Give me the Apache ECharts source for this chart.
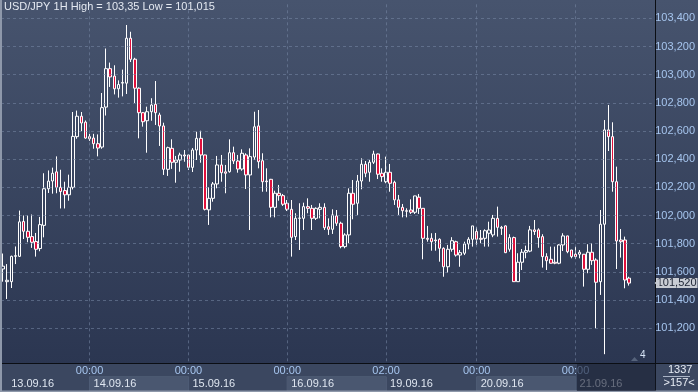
<!DOCTYPE html>
<html><head><meta charset="utf-8">
<script src="https://cdn.jsdelivr.net/npm/echarts@6/dist/echarts.min.js"></script>
<style>html,body{margin:0;padding:0;background:#2a3550}#c{width:698px;height:392px}</style>
</head><body><div id="c"></div>
<script>
// ---- data ----
const sessionDays = ['13.09.16','14.09.16','15.09.16','16.09.16','19.09.16','20.09.16','21.09.16'];
const sessionFirstHour = [3,0,0,0,0,0,0];
const sessionLastHour = [23,23,23,21,23,23,18];

const opens = [101.62,101.53,101.53,101.71,101.71,101.957,101.888,101.85,101.815,101.765,
101.93,102.19,102.245,102.31,102.2,102.177,102.147,102.2,102.56,102.705,
102.663,102.56,102.55,102.51,102.486,102.77,103.043,102.99,102.9,102.94,
102.94,103.259,103.11,102.904,102.73,102.673,102.737,102.79,102.714,102.636,
102.328,102.477,102.378,102.394,102.43,102.43,102.342,102.465,102.548,102.43,
102.04,102.122,102.224,102.359,102.31,102.311,102.446,102.387,102.33,102.43,
102.288,102.415,102.636,102.389,102.245,102.257,102.058,102.158,102.141,102.087,
102.044,101.85,101.98,101.98,102.063,102.051,101.98,102.044,102.058,101.92,
101.902,101.997,101.945,101.779,101.862,102.158,102.087,102.245,102.364,102.307,
102.378,102.437,102.3,102.24,102.307,102.236,102.111,102.058,102.034,102.039,
102.023,102.13,102.051,101.838,101.838,101.826,101.831,101.767,101.636,101.76,
101.814,101.719,101.732,101.798,101.831,101.886,101.838,101.838,101.874,101.862,
101.98,101.916,101.926,101.76,101.843,101.53,101.668,101.739,101.747,101.898,
101.898,101.85,101.708,101.689,101.668,101.661,101.791,101.855,101.755,101.725,
101.725,101.725,101.618,101.739,101.684,101.53,101.938,102.608,102.56,102.24,
101.826,101.826,101.555];
const closes = [101.64,101.54,101.71,101.715,101.955,101.888,101.845,101.81,101.76,101.935,
102.19,102.244,102.30,102.20,102.17,102.147,102.20,102.562,102.705,102.657,
102.55,102.545,102.51,102.479,102.766,103.043,102.984,102.90,102.93,102.945,
103.259,103.109,102.904,102.73,102.666,102.737,102.785,102.73,102.636,102.328,
102.482,102.378,102.394,102.43,102.423,102.342,102.465,102.548,102.43,102.044,
102.122,102.224,102.359,102.304,102.30,102.446,102.387,102.33,102.442,102.288,
102.418,102.63,102.382,102.24,102.24,102.058,102.158,102.141,102.08,102.044,
101.845,101.98,101.982,102.063,102.051,101.98,102.051,102.058,101.913,101.902,
102.004,101.945,101.779,101.862,102.158,102.08,102.245,102.364,102.3,102.378,
102.437,102.293,102.276,102.307,102.229,102.111,102.058,102.034,102.03,102.023,
102.139,102.051,101.838,101.831,101.814,101.821,101.767,101.636,101.76,101.821,
101.719,101.736,101.798,101.831,101.926,101.831,101.831,101.892,101.897,101.98,
101.916,101.909,101.736,101.843,101.53,101.668,101.739,101.751,101.898,101.886,
101.843,101.708,101.679,101.661,101.661,101.791,101.855,101.743,101.708,101.708,
101.739,101.618,101.739,101.679,101.526,101.938,102.608,102.56,102.24,101.819,
101.814,101.542,101.52];
const lows = [101.53,101.407,101.485,101.655,101.705,101.833,101.81,101.77,101.708,101.746,
101.845,102.16,102.155,102.158,102.05,102.05,102.105,102.185,102.545,102.60,
102.545,102.53,102.474,102.42,102.474,102.71,102.913,102.86,102.837,102.846,
102.863,103.09,102.799,102.548,102.631,102.446,102.673,102.643,102.494,102.288,
102.281,102.331,102.233,102.311,102.382,102.323,102.309,102.394,102.375,102.036,
101.933,102.098,102.193,102.24,102.158,102.304,102.366,102.304,102.318,102.188,
101.897,102.394,102.335,102.169,102.169,101.987,101.987,102.105,102.068,102.032,
101.708,101.826,101.755,101.897,102.016,101.897,101.968,101.98,101.897,101.862,
101.869,101.926,101.767,101.767,101.803,101.973,102.004,102.186,102.272,102.24,
102.366,102.259,102.24,102.229,102.169,102.075,102.004,101.987,101.987,102.011,
102.011,102.011,101.689,101.814,101.75,101.75,101.672,101.565,101.594,101.743,
101.708,101.636,101.719,101.76,101.779,101.791,101.803,101.779,101.779,101.846,
101.85,101.862,101.733,101.743,101.528,101.528,101.613,101.696,101.739,101.862,
101.771,101.63,101.613,101.659,101.654,101.654,101.748,101.732,101.696,101.691,
101.696,101.495,101.59,101.649,101.199,101.436,101.015,102.458,102.169,101.62,
101.701,101.483,101.502];
const highs = [101.73,101.655,101.715,101.78,102.035,102.0,102.0,102.007,101.876,101.99,
102.30,102.32,102.34,102.42,102.325,102.24,102.29,102.735,102.745,102.735,
102.675,102.58,102.58,102.576,102.87,103.186,103.086,103.067,102.96,103.036,
103.353,103.305,103.12,102.91,102.735,102.773,102.833,102.955,102.73,102.659,
102.489,102.541,102.423,102.446,102.465,102.432,102.479,102.595,102.602,102.432,
102.20,102.238,102.423,102.43,102.359,102.541,102.489,102.43,102.47,102.442,
102.477,102.737,102.749,102.442,102.335,102.26,102.176,102.217,102.153,102.11,
102.11,102.016,102.087,102.091,102.122,102.075,102.058,102.087,102.087,101.98,
102.044,102.039,101.956,101.874,102.193,102.252,102.288,102.406,102.387,102.394,
102.46,102.44,102.335,102.418,102.366,102.247,102.146,102.082,102.051,102.115,
102.14,102.153,102.052,101.926,101.874,101.876,101.838,101.774,101.791,101.846,
101.821,101.755,101.814,101.846,101.926,101.916,101.897,101.902,101.956,102.004,
102.063,101.926,101.93,101.867,101.85,101.732,101.762,101.786,101.926,101.968,
101.909,101.867,101.732,101.779,101.779,101.796,101.874,101.856,101.756,101.779,
101.755,101.727,101.796,101.803,101.696,102.039,102.678,102.785,102.662,102.347,
101.904,101.85,101.565];

const timeTickIdx = [21,45,69,93,115,139];
const dateTickIdx = [1,21,45,69,93,115,139];
const boxedDateIdx = [21,69,115];
const lastPrice = 101.52;
const titleText = 'USD/JPY 1H High = 103,35 Low = 101,015';
const yTickValues = [101.2,101.4,101.6,101.8,102.0,102.2,102.4,102.6,102.8,103.0,103.2,103.4];

// ---- build ----
const categories = [];
sessionDays.forEach((d, k) => {
  for (let h = sessionFirstHour[k]; h <= sessionLastHour[k]; h++) {
    categories.push(d + ' ' + (h < 10 ? '0' : '') + h + ':00');
  }
});
const ohlc = opens.map((o, i) => [o, closes[i], lows[i], highs[i]]);
const fmt = (v) => v.toFixed(3).replace('.', ',');
const yTickLabels = yTickValues.map(fmt);

const FONT = "'Liberation Sans Narrow','Arial Narrow','Liberation Sans',sans-serif";
const GRID_COLOR = 'rgba(120,136,166,0.55)';
const chart = echarts.init(document.getElementById('c'), null, {renderer: 'canvas'});

const Y_MIN = 100.95, Y_MAX = 103.5;
const markData = [];
timeTickIdx.forEach(i => markData.push([
  {coord: [categories[i], Y_MAX], lineStyle: {color: GRID_COLOR, type: [3, 3], width: 1}, label: {show: false}},
  {coord: [categories[i], Y_MIN]}
]));
yTickValues.forEach(v => markData.push({yAxis: v, lineStyle: {color: GRID_COLOR, type: [3, 3], width: 1}, label: {show: false}}));
markData.push({yAxis: lastPrice, lineStyle: {color: 'rgba(0,0,0,0)', width: 0},
  label: {show: true, position: 'end', distance: 4, formatter: fmt(lastPrice),
          backgroundColor: '#c8ccd4', color: '#1c2333', padding: [0, 1, 0, 1],
          fontSize: 11, lineHeight: 10, fontFamily: FONT}});

chart.setOption({
  animation: false,
  backgroundColor: {type: 'linear', x: 0, y: 0, x2: 0, y2: 1,
    colorStops: [{offset: 0, color: '#47546e'}, {offset: 0.93, color: '#2b3651'}, {offset: 1, color: '#2a3550'}]},
  title: [
    {text: titleText, left: 4, top: 1.5, padding: 0,
     textStyle: {fontSize: 11, fontWeight: 'normal', color: '#e4e9f1', fontFamily: FONT}},
    {text: '1337', left: 668, top: 364.5, padding: 0,
     textStyle: {fontSize: 11, fontWeight: 'normal', color: '#e8edf5', fontFamily: FONT}},
    {text: '>157<', left: 663.5, top: 377.5, padding: 0,
     textStyle: {fontSize: 11, fontWeight: 'normal', color: '#e8edf5', fontFamily: FONT}},
    {text: '4', left: 640, top: 350, padding: 0,
     textStyle: {fontSize: 10, fontWeight: 'normal', color: '#d5e3f5', fontFamily: FONT}}
  ],
  grid: {left: 1, right: 42.5, top: 4.3, bottom: 28.66},
  xAxis: [{
    type: 'category', data: categories, boundaryGap: true, position: 'bottom',
    axisLine: {show: false}, axisTick: {show: false}, splitLine: {show: false},
    axisLabel: {
      interval: (i) => timeTickIdx.indexOf(i) >= 0,
      formatter: (v) => v.split(' ')[1],
      margin: 2, fontSize: 11, color: '#a6c5ee', fontFamily: FONT
    }
  }, {
    type: 'category', data: categories, boundaryGap: true, position: 'bottom',
    axisLine: {show: false}, axisTick: {show: false}, splitLine: {show: false},
    axisLabel: {
      interval: (i) => dateTickIdx.indexOf(i) >= 0,
      formatter: (v, i) => {
        const d = v.split(' ')[0];
        return boxedDateIdx.indexOf(i) >= 0 ? '{box|' + d + '}' : '{plain|' + d + '}';
      },
      align: 'left', margin: 13.5,
      rich: {
        box: {backgroundColor: '#4a5770', borderColor: '#56647d', borderWidth: 0.5, width: 95, height: 13,
              padding: [1, 0, 0, 4], fontSize: 11, color: '#dfe6f0', fontFamily: FONT},
        plain: {width: 70, height: 13, padding: [1, 0, 0, 4], fontSize: 11, color: '#dfe6f0', fontFamily: FONT}
      }
    }
  }],
  yAxis: {
    type: 'value', position: 'right', min: Y_MIN, max: Y_MAX, interval: 0.05,
    axisLine: {show: false}, axisTick: {show: false}, splitLine: {show: false},
    axisLabel: {
      margin: 3.5, fontSize: 11, color: '#a6c5ee', fontFamily: FONT,
      showMinLabel: false, showMaxLabel: false,
      formatter: (v) => {
        const s = fmt(v);
        return yTickLabels.indexOf(s) >= 0 ? s : '';
      }
    }
  },
  series: [{
    type: 'candlestick', data: ohlc, barWidth: 3, xAxisIndex: 0,
    itemStyle: {color: 'rgba(0,0,0,0)', color0: '#e0103c', borderColor: '#ffffff', borderColor0: '#ffffff', borderWidth: 1},
    markLine: {silent: true, symbol: ['none', 'none'], animation: false, data: markData}
  }],
  graphic: [
    {type: 'rect', shape: {x: 0, y: 363, width: 698, height: 29}, style: {fill: '#3b4760'}, z: -1, silent: true},
    {type: 'rect', shape: {x: 577, y: 364, width: 78.5, height: 27}, style: {fill: 'rgba(26,33,52,0.62)'}, z: 100, silent: true},
    {type: 'line', shape: {x1: 655.5, y1: 0, x2: 655.5, y2: 392}, style: {stroke: '#0b0e14', lineWidth: 1}, z: 90, silent: true},
    {type: 'line', shape: {x1: 0, y1: 363.5, x2: 698, y2: 363.5}, style: {stroke: '#0b0e14', lineWidth: 1}, z: 90, silent: true},
    {type: 'line', shape: {x1: 663, y1: 376.5, x2: 690, y2: 376.5}, style: {stroke: '#aab4c6', lineWidth: 1}, z: 90, silent: true},
    {type: 'rect', shape: {x: 0, y: 0, width: 2, height: 392}, style: {fill: '#8e98aa'}, z: 95, silent: true},
    {type: 'rect', shape: {x: 0, y: 390.5, width: 698, height: 1.5}, style: {fill: '#8e98aa'}, z: 95, silent: true},
    {type: 'polygon', shape: {points: [[631, 361], [634.5, 357], [638, 361]]}, style: {fill: '#56637b'}, z: 95, silent: true}
  ]
});

// small pointer arrow on the last-price tag, placed through the y scale
const py = chart.convertToPixel({yAxisIndex: 0}, lastPrice);
chart.setOption({graphic: [{type: 'polygon', id: 'priceArrow',
  shape: {points: [[654.5, py], [659.5, py - 4.5], [659.5, py + 4.5]]},
  style: {fill: '#c8ccd4'}, z: 96, silent: true}]});
</script>
</body></html>
